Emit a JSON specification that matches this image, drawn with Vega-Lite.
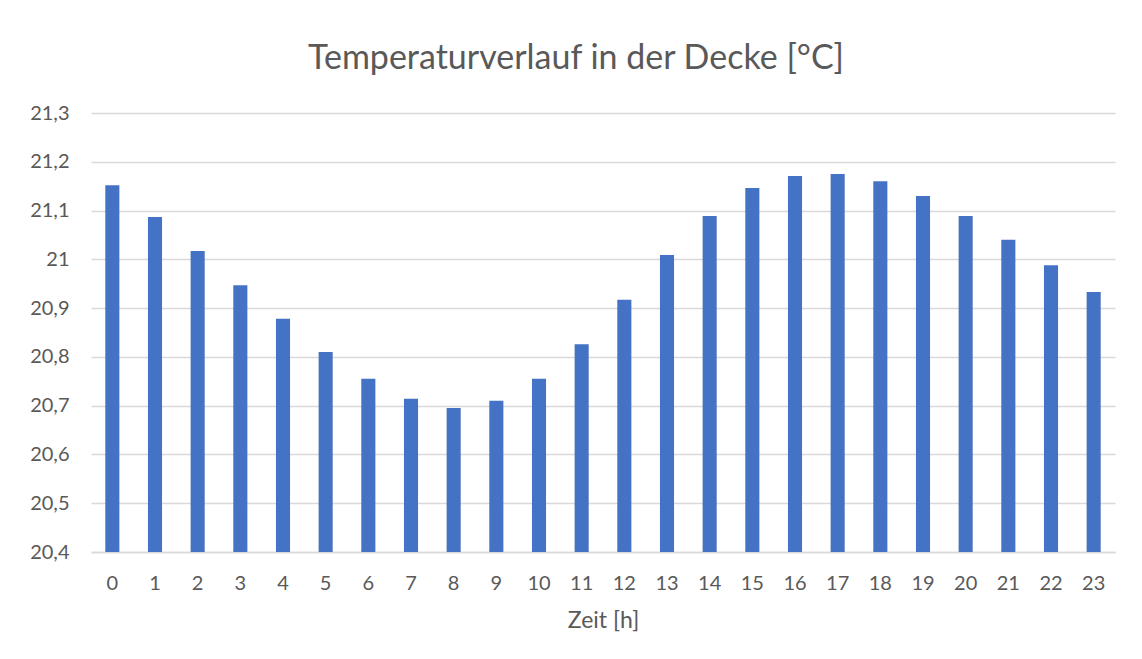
{
  "$schema": "https://vega.github.io/schema/vega-lite/v6.json",
  "width": 1024,
  "height": 439,
  "autosize": {"type": "none"},
  "padding": {"left": 91, "top": 113, "right": 27, "bottom": 107},
  "background": "white",
  "title": {
    "text": "Temperaturverlauf in der Decke [°C]",
    "font": "Lato",
    "fontSize": 34,
    "fontWeight": "normal",
    "color": "#595959",
    "offset": 27,
    "dx": -27
  },
  "data": {
    "values": [
      {"h": 0, "t": 21.152}, {"h": 1, "t": 21.087}, {"h": 2, "t": 21.017},
      {"h": 3, "t": 20.947}, {"h": 4, "t": 20.878}, {"h": 5, "t": 20.81},
      {"h": 6, "t": 20.755}, {"h": 7, "t": 20.714}, {"h": 8, "t": 20.695},
      {"h": 9, "t": 20.71}, {"h": 10, "t": 20.755}, {"h": 11, "t": 20.826},
      {"h": 12, "t": 20.917}, {"h": 13, "t": 21.009}, {"h": 14, "t": 21.089},
      {"h": 15, "t": 21.146}, {"h": 16, "t": 21.171}, {"h": 17, "t": 21.175},
      {"h": 18, "t": 21.16}, {"h": 19, "t": 21.13}, {"h": 20, "t": 21.089},
      {"h": 21, "t": 21.04}, {"h": 22, "t": 20.988}, {"h": 23, "t": 20.933}
    ]
  },
  "mark": {"type": "bar", "color": "#4472C4", "clip": true},
  "encoding": {
    "x": {
      "field": "h",
      "type": "ordinal",
      "title": "Zeit [h]",
      "scale": {"paddingInner": 0.67, "paddingOuter": 0.335},
      "axis": {
        "labelAngle": 0,
        "ticks": false,
        "domainColor": "#D9D9D9",
        "domainWidth": 1.5,
        "labelPadding": 21,
        "labelFontSize": 20,
        "labelFont": "Lato",
        "labelColor": "#595959",
        "titleFont": "Lato",
        "titleFontSize": 23,
        "titleFontWeight": "normal",
        "titleColor": "#595959",
        "titlePadding": 16
      }
    },
    "y": {
      "field": "t",
      "type": "quantitative",
      "title": null,
      "scale": {"domain": [20.4, 21.3], "zero": false, "nice": false},
      "axis": {
        "values": [20.4, 20.5, 20.6, 20.7, 20.8, 20.9, 21.0, 21.1, 21.2, 21.3],
        "labelExpr": "replace(format(datum.value, '.3~g'), '.', ',')",
        "domain": false,
        "ticks": false,
        "gridColor": "#D9D9D9",
        "gridWidth": 1.5,
        "labelPadding": 22,
        "labelFontSize": 20,
        "labelFont": "Lato",
        "labelColor": "#595959"
      }
    }
  },
  "config": {"view": {"stroke": null}}
}
